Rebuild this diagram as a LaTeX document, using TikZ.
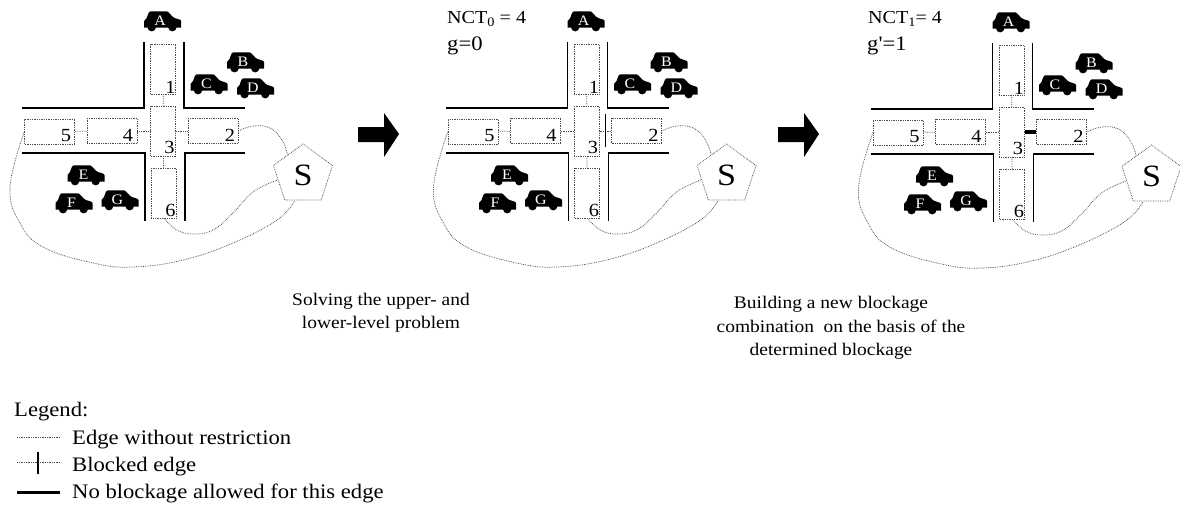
\documentclass[tikz,border=0pt]{standalone}
\usepackage{fontspec}
\setmainfont[FakeStretch=1.1]{Liberation Serif}
\newfontfamily\plainf[FakeStretch=1.1]{Liberation Serif}
\usetikzlibrary{shapes.geometric,calc}
\definecolor{dotc}{gray}{0.3}
\tikzset{
  road/.style={line width=1.7pt,black,line join=miter},
  roadbox/.style={draw=dotc,densely dotted,line width=0.75pt,rectangle,inner sep=0pt},
  link/.style={draw=dotc,densely dotted,line width=0.75pt},
  num/.style={font=\fontsize{18.5}{18.5}\selectfont,inner sep=0pt},
  big/.style={font=\fontsize{20.6}{24}\selectfont,inner sep=0pt},
  caption/.style={font=\fontsize{17.7}{20}\selectfont,inner sep=0pt},
  nct/.style={font=\fontsize{18.3}{20}\selectfont,inner sep=0pt},
  carlabel/.style={font=\fontsize{14.5}{14.5}\selectfont,text=white,inner sep=0pt},
  station/.style={regular polygon,regular polygon sides=5,draw=dotc,densely dotted,line width=0.75pt,minimum size=62pt,inner sep=0pt,font=\fontsize{31}{31}\selectfont},
}
\newcommand{\car}[4]{% name, x, y, label
  \begin{scope}[shift={(#2,#3)}]
  \fill[black] (-18.5,6.5) -- (-18.5,0) .. controls (-18,-2) .. (-16,-3)
    .. controls (-15,-6) and (-14,-9.7) .. (-12,-9.7) -- (4,-9.7)
    .. controls (6,-9.7) and (9,-4) .. (12,-3) -- (17.5,-1.2) -- (18.5,0) -- (18.5,6.5) -- cycle;
  \fill[black] (-11,6.2) circle[radius=4.2];
  \fill[black] (9.7,6.2) circle[radius=4.2];
  \end{scope}
  \node[carlabel] (#1) at (#2-2.5,#3) {#4};
}
\newcommand{\panel}[4]{% prefix, dx, dy, extra edges
\begin{scope}[shift={(#2,#3)}]
  \draw[road] (144,42) -- (144,108) -- (22,108);
  \draw[road] (184,42) -- (184,108) -- (245,108);
  \draw[road] (22,153) -- (145,153) -- (145,221);
  \draw[road] (245,153) -- (185,153) -- (185,221);
  \node[roadbox,minimum width=25pt,minimum height=50pt] (#1b1) at (163,69) {};
  \node[roadbox,minimum width=25pt,minimum height=50pt] (#1b3) at (163.3,131) {};
  \node[roadbox,minimum width=25pt,minimum height=50pt] (#1b6) at (163.8,193) {};
  \node[roadbox,minimum width=50pt,minimum height=25pt] (#1b2) at (213,131) {};
  \node[roadbox,minimum width=50pt,minimum height=25pt] (#1b4) at (112,131) {};
  \node[roadbox,minimum width=50pt,minimum height=25pt] (#1b5) at (49.8,131.5) {};
  \node[num] at (170.5,87) {1};
  \node[num] at (230,135.5) {2};
  \node[num] at (169.5,147) {3};
  \node[num] at (128,135.5) {4};
  \node[num] at (66,135.5) {5};
  \node[num] at (170.5,210) {6};
  \node[station] (#1s) at (303,175) {S};
  \draw[link] (#1b1) -- (#1b3);
  \draw[link] (#1b3) -- (#1b6);
  \draw[link] (#1b4) -- (#1b3);
  \draw[link] (#1b5) -- (#1b4);
  #4
  \draw[link] plot[smooth,tension=0.7] coordinates {(#1b2.east) (253,126) (270,128) (282,140) (#1s.127)};
  \draw[link] plot[smooth,tension=0.7] coordinates {(#1b6.south) (177,230) (193,234) (213,230) (233,213) (253,192) (#1s.191)};
  \draw[link] plot[smooth,tension=0.7] coordinates {(#1b5.west) (10,187) (20,223) (43,247) (93,263) (133,267) (183,260) (233,243) (277,220) (#1s.252)};
  \car{#1A}{162.7}{21}{A}
  \car{#1B}{245.5}{62}{B}
  \car{#1C}{209}{84}{C}
  \car{#1D}{255.5}{88}{D}
  \car{#1E}{86}{175}{E}
  \car{#1F}{74}{203}{F}
  \car{#1G}{120}{200}{G}
\end{scope}}
\begin{document}
\begin{tikzpicture}[x=1pt,y=-1pt]
\useasboundingbox (0,0) rectangle (1180,504);
\panel{p}{0}{0}{\draw[link] (pb3) -- (pb2);}
\panel{q}{423.5}{0}{\draw[link] (qb3) -- (qb2);}
\panel{r}{848.5}{1}{}
% blocked edge
\draw[line width=1.7pt] (605.5,114) -- (605.5,147);
% forbidden edge
\draw[line width=3.5pt] (rb3.east |- 0,132) -- (rb2.west |- 0,132);
% block arrows
\foreach \x in {0,420}{
  \fill[black,shift={(\x,0)}] (358,127) -- (384,127) -- (384,113) -- (399,134) -- (384,157) -- (384,142) -- (358,142) -- cycle;
}
\node[nct,anchor=base west] (n0) at (447,23) {NCT\raisebox{-3pt}{\fontsize{13}{13}\selectfont 0} = 4};
\node[big,anchor=base west] (g0) at (447,50) {g=0};
\node[nct,anchor=base west] (n1) at (868,23) {NCT\raisebox{-3pt}{\fontsize{13}{13}\selectfont 1}= 4};
\node[big,anchor=base west] (g1) at (867,50) {g{\plainf '}=1};
\node[caption,anchor=base] (t1a) at (381,305.5) {Solving the upper- and};
\node[caption,anchor=base] (t1b) at (381,328) {lower-level problem};
\node[caption,anchor=base] (t2a) at (831,308) {Building a new blockage};
\node[caption,anchor=base] (t2b) at (841,332) {combination\ \ on the basis of the};
\node[caption,anchor=base] (t2c) at (831,355) {determined blockage};
\node[big,anchor=base west] (leg) at (14,416) {Legend:};
\node[big,anchor=base west] (l1) at (72,444) {Edge without restriction};
\node[big,anchor=base west] (l2) at (72,471) {Blocked edge};
\node[big,anchor=base west] (l3) at (72,498.5) {No blockage allowed for this edge};
\coordinate (e1a) at (17,437.5); \coordinate (e1b) at (60,437.5);
\coordinate (e2a) at (17,462); \coordinate (e2b) at (60,462);
\coordinate (e2c) at (38,451.5); \coordinate (e2d) at (38,474);
\coordinate (e3a) at (17,492); \coordinate (e3b) at (60,492);
\draw[link] (e1a) -- (e1b);
\draw[link] (e2a) -- (e2b);
\draw[line width=1.7pt] (e2c) -- (e2d);
\draw[line width=3pt] (e3a) -- (e3b);
\end{tikzpicture}
\end{document}
